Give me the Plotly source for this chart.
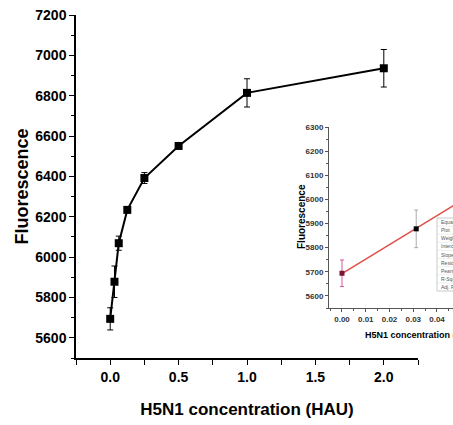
import plotly.graph_objects as go
import numpy as np

# H5N1 titration: concentration (HAU) vs fluorescence intensity
conc = [0.0, 0.03125, 0.0625, 0.125, 0.25, 0.5, 1.0, 2.0]
fluor = [5694, 5878, 6069, 6234, 6392, 6551, 6814, 6936]
fluor_err = [55, 78, 35, 10, 27, 10, 70, 93]

# low-concentration points used for the linear calibration inset
n_lin = 3
fit_rows = ["Equation", "Plot", "Weight", "Intercept", "Slope",
            "Residual Sum of Squares", "Pearson's r", "R-Square (COD)",
            "Adj. R-Square"]

x_lin = np.array(conc[:n_lin])
y_lin = np.array(fluor[:n_lin])
slope, intercept = np.polyfit(x_lin, y_lin, 1)
x_fit = np.array([0.0, conc[n_lin - 1]])
y_fit = intercept + slope * x_fit

W, H = 453, 425
ML, MR, MT, MB = 76, 0, 15, 67
PW, PH = W - ML - MR, H - MT - MB


def px(xp):
    return (xp - ML) / PW


def py(yp):
    return (H - MB - yp) / PH


FONT = "Arial, Liberation Sans, sans-serif"

fig = go.Figure()

# main curve
fig.add_trace(go.Scatter(
    x=conc, y=fluor,
    mode="lines+markers",
    line=dict(color="black", width=2),
    marker=dict(symbol="square", size=8, color="black"),
    error_y=dict(type="data", array=fluor_err, color="black", thickness=1, width=3),
    xaxis="x", yaxis="y", showlegend=False,
))

# inset: linear fit
fig.add_trace(go.Scatter(
    x=x_fit, y=y_fit, mode="lines",
    line=dict(color="#e0504a", width=1.5),
    xaxis="x2", yaxis="y2", showlegend=False,
))
# inset: blank point
fig.add_trace(go.Scatter(
    x=conc[:1], y=fluor[:1], mode="markers",
    marker=dict(symbol="square", size=5, color="#7a1535"),
    error_y=dict(type="data", array=fluor_err[:1], color="#d858a8", thickness=1, width=2),
    xaxis="x2", yaxis="y2", showlegend=False,
))
# inset: remaining low-concentration points
fig.add_trace(go.Scatter(
    x=conc[1:n_lin], y=fluor[1:n_lin], mode="markers",
    marker=dict(symbol="square", size=5, color="black"),
    error_y=dict(type="data", array=fluor_err[1:n_lin], color="#aaaaaa", thickness=1, width=2),
    xaxis="x2", yaxis="y2", showlegend=False,
))

main_axis = dict(showline=True, linecolor="black", linewidth=1.5, showgrid=False,
                 zeroline=False, ticks="outside", ticklen=5, tickwidth=1.2,
                 tickcolor="black",
                 tickfont=dict(family=FONT, size=14, color="black", weight="bold"))
inset_axis = dict(showline=True, linecolor="#555555", linewidth=1, showgrid=False,
                  zeroline=False, ticks="outside", ticklen=3, tickwidth=1,
                  tickcolor="#555555",
                  tickfont=dict(family=FONT, size=8, color="#333333", weight="bold"))

fig.update_layout(
    width=W, height=H,
    margin=dict(l=ML, r=MR, t=MT, b=MB),
    paper_bgcolor="white", plot_bgcolor="white",
    xaxis=dict(main_axis, domain=[0, px(418)], range=[-0.25, 2.25],
               tickvals=[0, 0.5, 1.0, 1.5, 2.0], tickformat=".1f",
               minor=dict(tickvals=[-0.25, 0.25, 0.75, 1.25, 1.75, 2.25],
                          ticks="outside", ticklen=5, tickcolor="black"),
               title=dict(text="H5N1 concentration (HAU)", standoff=20,
                          font=dict(family=FONT, size=17, color="black", weight="bold"))),
    yaxis=dict(main_axis, domain=[0, 1], range=[5500, 7200], dtick=200,
               minor=dict(dtick=100, ticks="outside", ticklen=3, tickcolor="black"),
               title=dict(text="Fluorescence", standoff=2,
                          font=dict(family=FONT, size=18, color="black", weight="bold"))),
    xaxis2=dict(inset_axis, domain=[px(329), 1], anchor="y2",
                range=[-0.00547, 0.04674], dtick=0.01, tickformat=".2f",
                minor=dict(dtick=0.005, ticks="outside", ticklen=2, tickcolor="#555555")),
    yaxis2=dict(inset_axis, domain=[py(308), py(127)], anchor="x2",
                range=[5550, 6300], dtick=100,
                minor=dict(dtick=50, ticks="outside", ticklen=2, tickcolor="#555555")),
)

annotations = [
    dict(text="H5N1 concentration (HAU)", x=px(363), y=py(335), xref="paper", yref="paper",
         xanchor="left", yanchor="middle", showarrow=False,
         font=dict(family=FONT, size=9, color="black", weight="bold")),
    dict(text="Fluorescence", x=px(301), y=py(217), xref="paper", yref="paper",
         xanchor="center", yanchor="middle", textangle=-90, showarrow=False,
         font=dict(family=FONT, size=10, color="black", weight="bold")),
]

# fit-report box (extends past the right edge)
box_top, box_bot, box_left = 218, 291, 437
row_h = (box_bot - box_top) / len(fit_rows)
shapes = [dict(type="rect", xref="paper", yref="paper",
               x0=px(box_left), x1=px(box_left + 60), y0=py(box_bot), y1=py(box_top),
               line=dict(color="#bbbbbb", width=0.8), fillcolor="white", layer="above")]
for i, row in enumerate(fit_rows):
    yc = box_top + row_h * (i + 0.5)
    annotations.append(dict(text=row, x=px(box_left + 2), y=py(yc), xref="paper",
                            yref="paper", xanchor="left", yanchor="middle",
                            showarrow=False,
                            font=dict(family=FONT, size=5, color="#555555")))
    if i > 0:
        yl = box_top + row_h * i
        shapes.append(dict(type="line", xref="paper", yref="paper",
                           x0=px(box_left), x1=px(box_left + 60), y0=py(yl), y1=py(yl),
                           line=dict(color="#dddddd", width=0.5), layer="above"))

fig.update_layout(annotations=annotations, shapes=shapes)

fig.write_html("out.html")
